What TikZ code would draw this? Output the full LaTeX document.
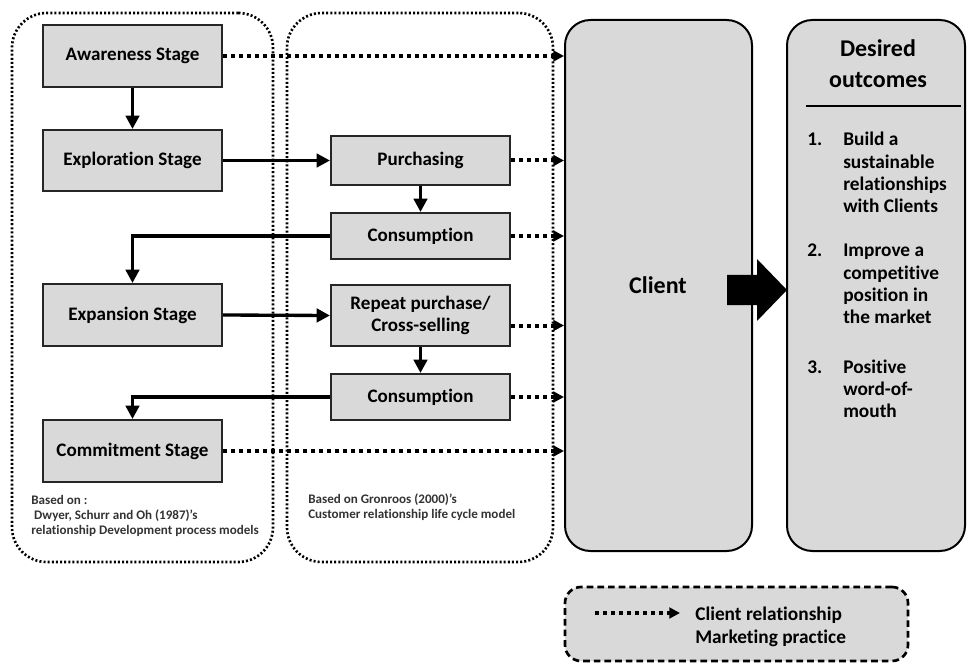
\documentclass[tikz,border=0pt]{standalone}
\usepackage{fontspec}
\setmainfont{Carlito}[Ligatures=NoCommon]
\usetikzlibrary{arrows.meta,calc}
\definecolor{boxgray}{HTML}{D9D9D9}
\definecolor{notegray}{HTML}{333333}

\begin{document}
\begin{tikzpicture}[x=0.75pt,y=-0.75pt,
  stagebox/.style={draw=black!85, line width=1.5pt, fill=boxgray, minimum width=134.25pt,
    minimum height=46.5pt, inner sep=0pt, align=center,
    font=\fontsize{14.3}{17}\selectfont\bfseries},
  container/.style={draw, line width=2pt, dash pattern=on 1.5pt off 1.6pt,
    rounded corners=26pt, inner sep=0pt},
  bigbox/.style={draw, line width=1.5pt, fill=boxgray, rounded corners=19pt,
    minimum height=398.25pt, inner sep=0pt},
  solidarrow/.style={line width=2.5pt, -{Triangle[length=10pt,width=10pt]}},
  dotarrow/.style={line width=3pt, dash pattern=on 3pt off 3pt,
    -{Triangle[length=8pt,width=8pt]}},
  notetext/.style={inner sep=0pt, text=notegray, font=\fontsize{9.8}{11.6}\selectfont\bfseries},
  listtext/.style={inner sep=0pt, font=\fontsize{14.5}{16.75}\selectfont\bfseries},
]
\useasboundingbox (0,0) rectangle (968,663);

% dotted containers of the two models
\node[container, minimum width=195.75pt, minimum height=411.75pt] (dwyer) at (142.5,287.5) {};
\node[container, minimum width=199.5pt, minimum height=411.75pt] (gronroos) at (420,287.5) {};

% client and outcomes panels
\node[bigbox, minimum width=140.25pt] (client) at (658.5,285.5) {};
\node[inner sep=0pt, font=\fontsize{18}{21}\selectfont\bfseries] (clientlbl) at (658,285) {Client};
\node[bigbox, minimum width=133.5pt] (desired) at (876,285.5) {};

% relationship development stages
\node[stagebox] (aware)  at (132.5,56)    {Awareness Stage};
\node[stagebox, minimum height=45.75pt] (explor) at (132.5,160.5) {Exploration Stage};
\node[stagebox] (expan)  at (132.5,315)   {Expansion Stage};
\node[stagebox] (commit) at (132.5,451)   {Commitment Stage};

% customer relationship life cycle
\node[stagebox, minimum height=36.75pt] (purch) at (420.5,160.5) {Purchasing};
\node[stagebox, minimum height=34.5pt]  (consA) at (420.5,236)   {Consumption};
\node[stagebox, minimum height=45.75pt] (repeat) at (420.5,315.5) {Repeat purchase/\\Cross-selling};
\node[stagebox, minimum height=34.5pt]  (consB) at (420.5,397)   {Consumption};

% solid flow
\draw[solidarrow] (aware) -- (explor);
\draw[solidarrow] (explor.east) -- (purch.west);
\draw[solidarrow] (purch) -- (consA);
\draw[solidarrow] (consA.west) -| (expan.north);
\draw[solidarrow] (expan.east) -- (repeat.west);
\draw[solidarrow] (repeat) -- (consB);
\draw[solidarrow] (consB.west) -| (commit.north);

% client relationship marketing practice
\draw[dotarrow] (aware.east) -- (aware.east -| client.west);
\draw[dotarrow] (purch.east) -- (purch.east -| client.west);
\draw[dotarrow] (consA.east) -- (consA.east -| client.west);
\draw[dotarrow] ([yshift=-7.5pt]repeat.east) -- ([yshift=-7.5pt]repeat.east -| client.west);
\draw[dotarrow] (consB.east) -- (consB.east -| client.west);
\draw[dotarrow] (commit.east) -- (commit.east -| client.west);

% block arrow from client to outcomes
\fill (727,275) -- (757,275) -- (757,259) -- (787,290) -- (757,321) -- (757,305) -- (727,305) -- cycle;

% outcomes panel content
\node[inner sep=0pt, anchor=base, font=\fontsize{18}{23.25}\selectfont\bfseries] (deshead) at (878,57)
  {\begin{tabular}[t]{@{}c@{}}Desired\\outcomes\end{tabular}};
\draw[line width=2.2pt] (806,106) coordinate (ruleA) -- (961,106) coordinate (ruleB);
\node[listtext, anchor=base west] (out1) at (807,146)
  {\begin{tabular}[t]{@{}p{27pt}@{}l@{}}1.&Build a\\&sustainable\\&relationships\\&with Clients\end{tabular}};
\node[listtext, anchor=base west] (out2) at (807,257)
  {\begin{tabular}[t]{@{}p{27pt}@{}l@{}}2.&Improve a\\&competitive\\&position in\\&the market\end{tabular}};
\node[listtext, anchor=base west] (out3) at (807,373)
  {\begin{tabular}[t]{@{}p{27pt}@{}l@{}}3.&Positive\\&word-of-\\&mouth\end{tabular}};

% sources
\node[notetext, anchor=base west] (noteA) at (31,504)
  {\begin{tabular}[t]{@{}l@{}}Based on :\\\ Dwyer, Schurr and Oh (1987)'s\\relationship Development process models\end{tabular}};
\node[notetext, anchor=base west] (noteB) at (308,503)
  {\begin{tabular}[t]{@{}l@{}}Based on Gronroos (2000)'s\\Customer relationship life cycle model\end{tabular}};

% legend
\node[draw, fill=boxgray, line width=2pt, dash pattern=on 5pt off 3pt, rounded corners=12pt,
  minimum width=257.25pt, minimum height=55.5pt, inner sep=0pt] (legend) at (736.5,624) {};
\coordinate (lgA) at (595,613);
\coordinate (lgB) at (680,613);
\draw[dotarrow, line width=2.5pt] (lgA) -- (lgB);
\node[listtext, anchor=base west, font=\fontsize{14.5}{17.6}\selectfont\bfseries] (lgtext) at (695,620)
  {\begin{tabular}[t]{@{}l@{}}Client relationship\\Marketing practice\end{tabular}};
\end{tikzpicture}
\end{document}
